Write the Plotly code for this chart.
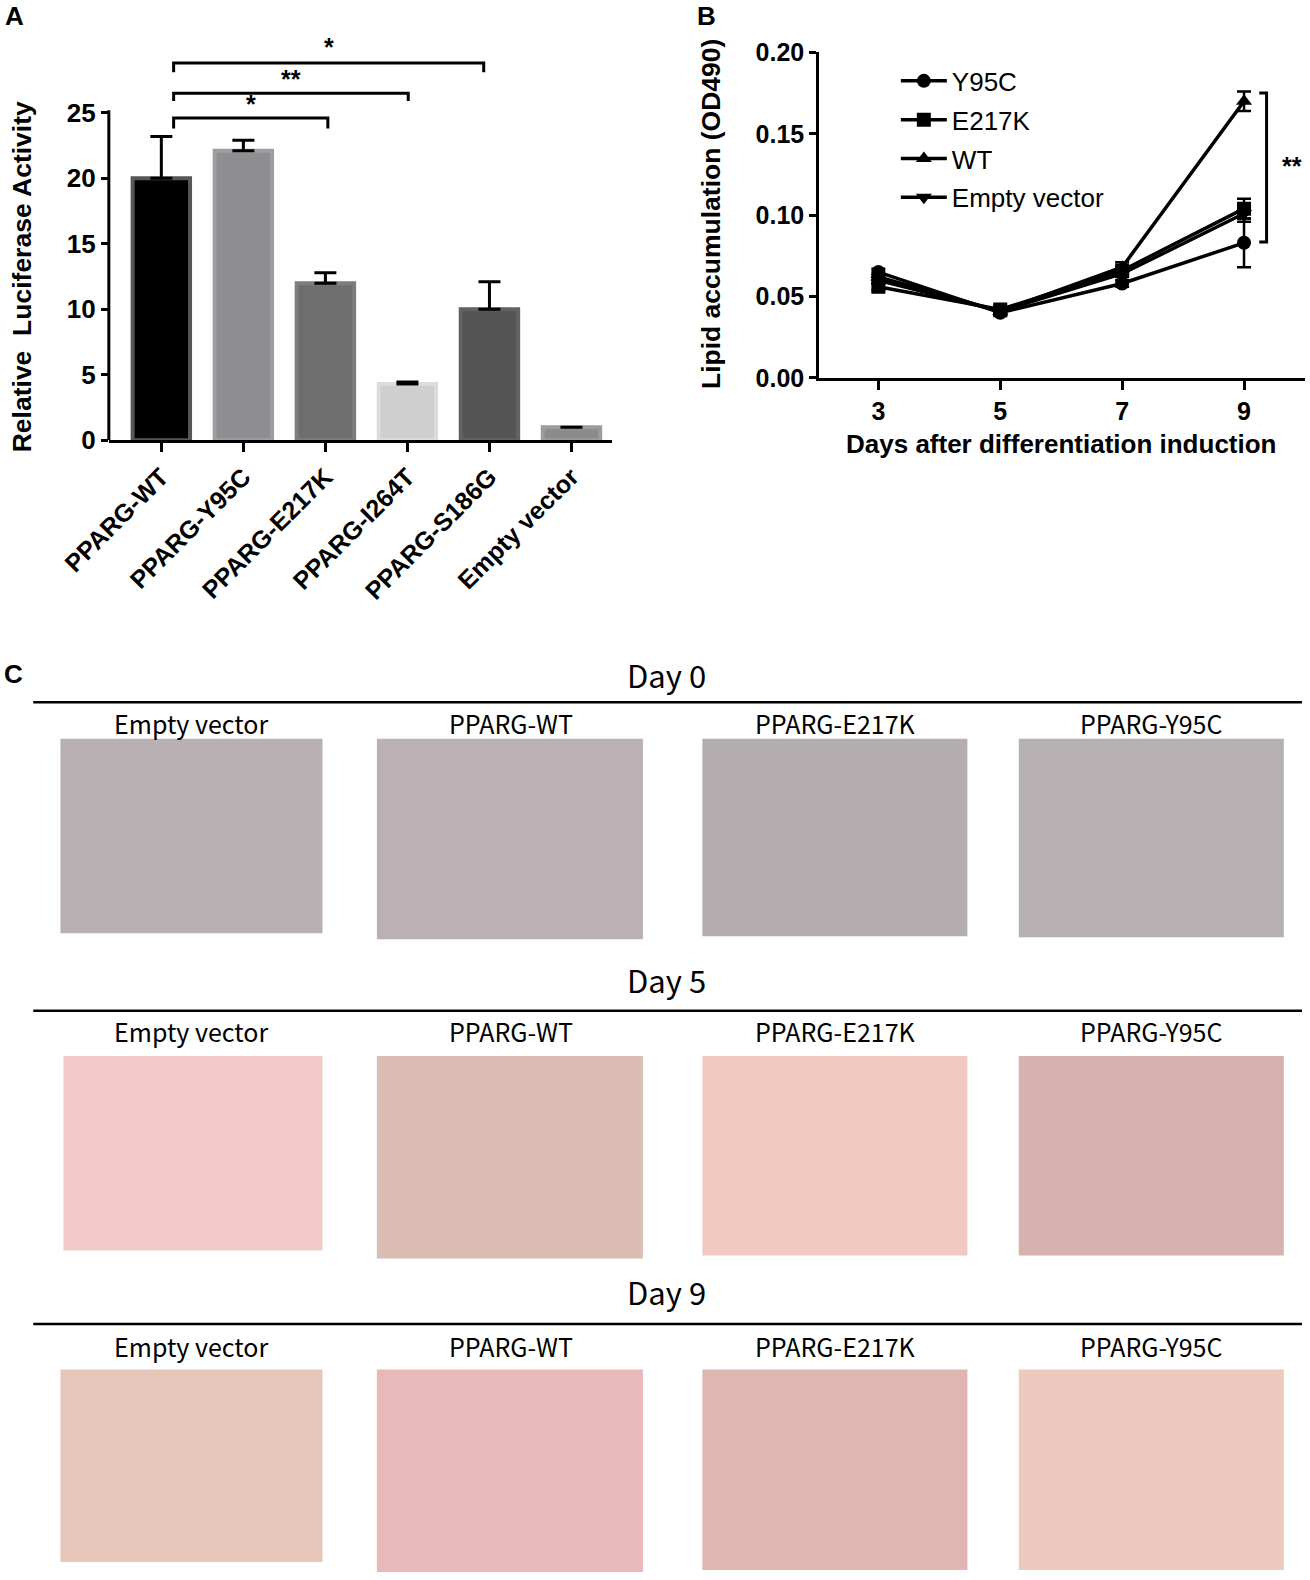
import plotly.graph_objects as go

# ---- panel A data ----
constructs = ['PPARG-WT', 'PPARG-Y95C', 'PPARG-E217K', 'PPARG-I264T', 'PPARG-S186G', 'Empty vector']
luc_mean = [20.0, 22.1, 12.0, 4.3, 10.0, 1.0]
luc_err = [3.2, 0.8, 0.8, 0.15, 2.1, 0.0]
bar_fill = ['#000000', '#8e8e92', '#6e6e6e', '#cfcfcf', '#555555', '#8b8b8b']
bar_edge = ['#575757', '#9e9ea2', '#7d7d7d', '#dcdcdc', '#626262', '#9c9c9c']
# significance brackets: (left end, right end, bracket top, bracket foot, label)
sig_pairs = [(0.15, 2.03, 24.6, 23.8, '*'), (0.15, 3.01, 26.5, 25.9, '**'), (0.15, 3.93, 28.8, 28.1, '*')]

# ---- panel B data ----
days = [3, 5, 7, 9]
groups = ['Y95C', 'E217K', 'WT', 'Empty vector']
lipid = {
    'Y95C': [0.065, 0.040, 0.058, 0.083],
    'E217K': [0.056, 0.042, 0.066, 0.104],
    'WT': [0.062, 0.041, 0.068, 0.170],
    'Empty vector': [0.060, 0.041, 0.064, 0.101],
}
lipid_err = {
    'Y95C': [0.002, 0.002, 0.002, 0.015],
    'E217K': [0.002, 0.002, 0.002, 0.006],
    'WT': [0.002, 0.002, 0.003, 0.006],
    'Empty vector': [0.002, 0.002, 0.002, 0.005],
}
symbols = {'Y95C': 'circle', 'E217K': 'square', 'WT': 'triangle-up', 'Empty vector': 'triangle-down'}

# ---- panel C layout info ----
day_titles = ['Day 0', 'Day 5', 'Day 9']
cell_labels = ['Empty vector', 'PPARG-WT', 'PPARG-E217K', 'PPARG-Y95C']
photo_colors = [
    ['#b8b0b3', '#bbb1b4', '#b5aeb1', '#b7b0b3'],
    ['#f0c9c8', '#dcbdb4', '#f0c9c1', '#d5b2ad'],
    ['#e6c6b8', '#e7b9b8', '#dfb6b1', '#eccabd'],
]

W, H = 1310, 1580
K = 1.0077  # my pixel readings were taken off a slightly shrunk view of the reference
font = 'Liberation Sans Narrow, Liberation Sans, Arial, sans-serif'
rfont = 'Liberation Sans, Arial, sans-serif'
cfont = 'Noto Sans CJK SC, Noto Sans, sans-serif'


def px(x):
    return x * K / W


def py(y):
    return 1 - y * K / H


def bold(size):
    return dict(family=font, size=size, color='black', weight='bold')


fig = go.Figure()
pos = list(range(len(constructs)))

# panel A bars
fig.add_trace(go.Bar(
    x=pos, y=luc_mean, width=0.7,
    marker=dict(color=bar_fill, line=dict(color=bar_edge, width=4)),
    error_y=dict(type='data', array=luc_err, arrayminus=[0] * len(luc_err), symmetric=False,
                 color='black', thickness=3, width=11),
    showlegend=False, xaxis='x', yaxis='y'))

# significance brackets for A
bx, by = [], []
for x0, x1, top, foot, lab in sig_pairs:
    bx += [x0, x0, x1, x1, None]
    by += [foot, top, top, foot, None]
fig.add_trace(go.Scatter(x=bx, y=by, mode='lines', line=dict(color='black', width=3),
                         showlegend=False, xaxis='x', yaxis='y'))

# panel B lines
for g in groups:
    fig.add_trace(go.Scatter(
        x=days, y=lipid[g], name=g, mode='lines+markers',
        line=dict(color='black', width=3.5),
        marker=dict(symbol=symbols[g], size=14, color='black'),
        error_y=dict(type='data', array=lipid_err[g], color='black', thickness=2.5, width=7),
        legendgroup=g, xaxis='x2', yaxis='y2'))

# ** bracket for B
fig.add_trace(go.Scatter(x=[9.25, 9.37, 9.37, 9.25], y=[0.175, 0.175, 0.0835, 0.0835],
                         mode='lines', line=dict(color='black', width=3),
                         showlegend=False, xaxis='x2', yaxis='y2'))

axis_common = dict(linecolor='black', linewidth=3, ticks='outside', automargin=False,
                   tickwidth=3, tickcolor='black', showgrid=False, zeroline=False)

a_top = 31.2  # extra headroom above 25 for the significance brackets
fig.update_layout(
    width=W, height=H, margin=dict(l=0, r=0, t=0, b=0, pad=0), autosize=False,
    paper_bgcolor='white', plot_bgcolor='white',
    xaxis=dict(domain=[px(108), px(607)], anchor='y', range=[-0.64, 5.49], showline=True,
               tickvals=pos, ticktext=constructs, tickangle=-45, ticklen=9,
               tickfont=bold(25), **axis_common),
    yaxis=dict(domain=[py(437), py(437 - 13 * a_top)], anchor='x', range=[0, a_top],
               tickvals=[0, 5, 10, 15, 20, 25], showline=False, ticklen=7,
               tickfont=bold(26), **axis_common),
    xaxis2=dict(domain=[px(813), px(1295)], anchor='y2', range=[2.03, 10.0], tickvals=days,
                showline=True, ticklen=9, tickfont=bold(25), **axis_common),
    yaxis2=dict(domain=[py(375), py(52)], anchor='x2', range=[0, 0.2], showline=True, ticklen=7,
                tickvals=[0, 0.05, 0.1, 0.15, 0.2], tickformat='.2f', tickfont=bold(25), **axis_common),
    legend=dict(x=px(889), y=py(57), xanchor='left', yanchor='top', bgcolor='rgba(0,0,0,0)',
                font=dict(family=rfont, size=26, color='black'), tracegroupgap=2,
                traceorder='grouped', itemwidth=46),
)

shapes = [dict(type='line', xref='x domain', yref='y', x0=0, x1=0, y0=0, y1=25.2,
               line=dict(color='black', width=3))]

ann = []


def note(x, y, text, fnt, xref='paper', yref='paper', angle=0):
    ann.append(dict(x=x, y=y, xref=xref, yref=yref, text=text, showarrow=False, textangle=angle,
                    xanchor='center', yanchor='middle', font=fnt))


# star labels on A
for x0, x1, top, foot, lab in sig_pairs:
    note((x0 + x1) / 2, top + (1.25 if top > 28 else 1.05), lab, bold(25), 'x', 'y')
note(9.78, 0.130, '**', bold(25), 'x2', 'y2')
# axis titles
note(px(22), py(275), 'Relative  Luciferase Activity', bold(26.5), angle=-90)
note(px(705), py(212), 'Lipid accumulation (OD490)', bold(26.5), angle=-90)
note(px(1053), py(441), 'Days after differentiation induction', bold(26))
# panel letters
for lab, x0, y0 in [('A', 14, 16), ('B', 701, 16), ('C', 13, 669)]:
    note(px(x0), py(y0), lab, dict(family=rfont, size=26, color='black', weight='bold'))

# panel C: day headers, rules, labels, photo placeholders
title_y = [669, 972, 1282]
rule_y = [697, 1003, 1314]
label_y = [717, 1023, 1336]
photo_top = [733, 1048, 1359]
photo_bottom = [[926, 932, 929, 930], [1241, 1249, 1246, 1246], [1550, 1560, 1558, 1558]]
col_x = [[60, 320], [374, 638], [697, 960], [1011, 1274]]
col_x_row1 = [[63, 320], [374, 638], [697, 960], [1011, 1274]]
label_cx = [190, 507, 829, 1142]

for r, title in enumerate(day_titles):
    note(px(661), py(title_y[r]), title, dict(family=cfont, size=31, color='black'))
    shapes.append(dict(type='line', xref='paper', yref='paper', x0=px(33), x1=px(1292),
                       y0=py(rule_y[r]), y1=py(rule_y[r]), line=dict(color='black', width=2.5)))
    cols = col_x_row1 if r == 1 else col_x
    for c, lab in enumerate(cell_labels):
        note(px(label_cx[c]), py(label_y[r]), lab, dict(family=cfont, size=25, color='black'))
        shapes.append(dict(type='rect', xref='paper', yref='paper', layer='below',
                           x0=px(cols[c][0]), x1=px(cols[c][1]),
                           y0=py(photo_bottom[r][c]), y1=py(photo_top[r]),
                           fillcolor=photo_colors[r][c], line=dict(width=0)))

fig.update_layout(annotations=ann, shapes=shapes)
# drop the default page margin so the figure sits flush in the window
fig.write_html('out.html', config={'displayModeBar': False},
               post_script="document.body.style.margin='0';")
